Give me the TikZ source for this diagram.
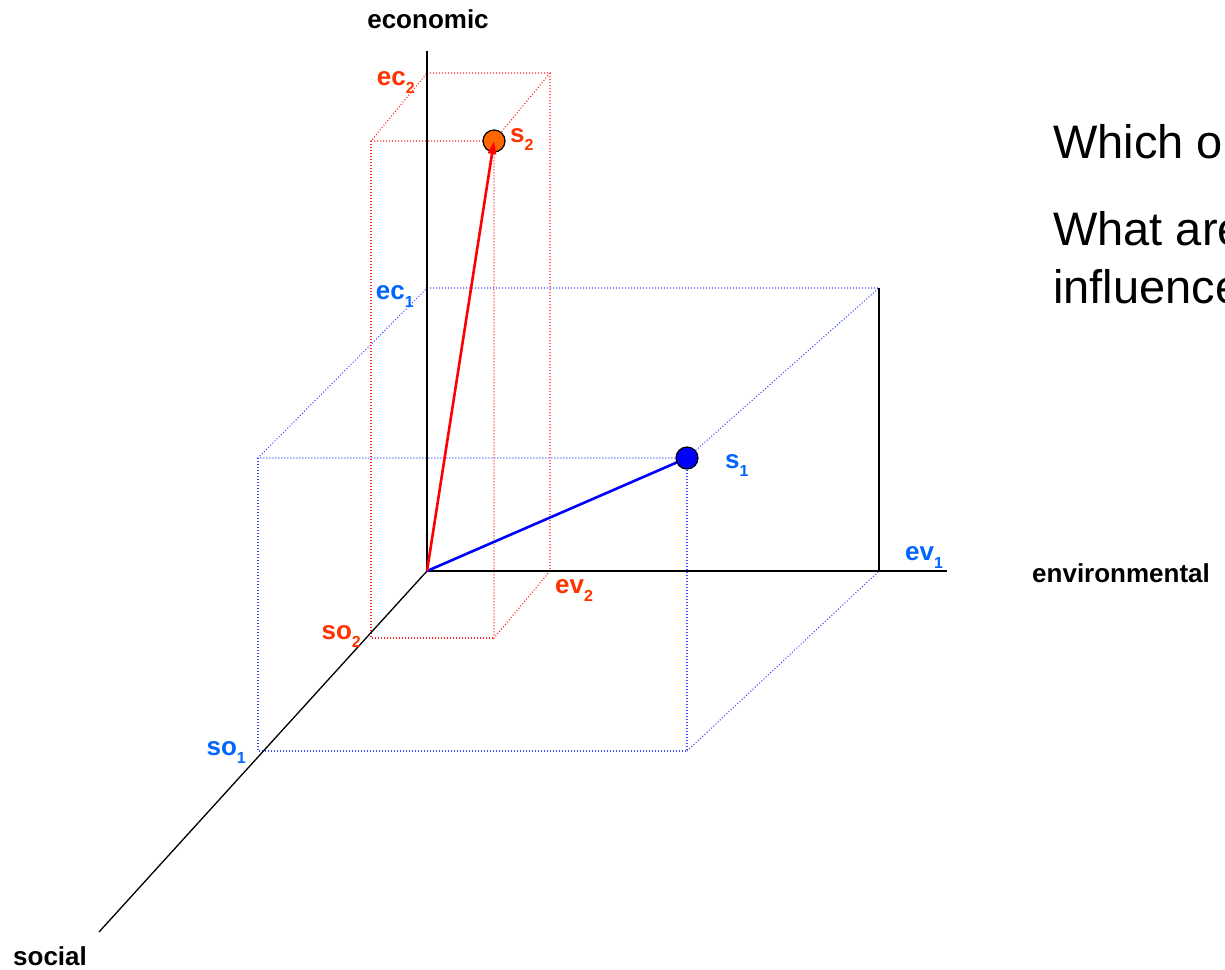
\documentclass[tikz,border=0pt]{standalone}
\usepackage{fontspec}
\setmainfont{Liberation Sans}
\usetikzlibrary{arrows.meta}
\definecolor{lblred}{HTML}{FF3300}
\definecolor{lblblue}{HTML}{0066FF}
\definecolor{dotred}{HTML}{FF2222}
\definecolor{dotblue}{HTML}{3D4DFF}
\definecolor{vecblue}{HTML}{0000FF}
\definecolor{vecred}{HTML}{FF0000}
\definecolor{ptorange}{HTML}{FF6600}
\newcommand{\idx}[1]{\raisebox{-8pt}{\fontsize{16}{16}\selectfont #1}}

\begin{document}
\begin{tikzpicture}[x=1pt, y=-1pt,
    lbl/.style={font=\fontsize{26}{30}\selectfont\bfseries, inner sep=0pt},
    qtext/.style={font=\fontsize{47}{56}\selectfont, inner sep=0pt, anchor=base west},
    axisline/.style={black, line width=1.3pt},
    dotbox/.style={line width=1.1pt, dash pattern=on 1pt off 2pt},
    vec/.style={line width=2.6pt},
    pt/.style={circle, draw=black, line width=1.2pt, minimum size=22pt, inner sep=0pt}]
  \useasboundingbox (0,0) rectangle (1225,969);
  % corners
  \coordinate (O) at (427,571);
  \coordinate (ectop) at (427,51);
  \coordinate (evend) at (947,571);
  \coordinate (soend) at (99,932);
  \coordinate (ec1) at (427,288);
  \coordinate (bbr) at (879,288);
  \coordinate (ev1) at (879,571);
  \coordinate (bftl) at (258,458);
  \coordinate (s1) at (687,458);
  \coordinate (bfbr) at (687,751);
  \coordinate (so1) at (258,751);
  \coordinate (ec2) at (427,73);
  \coordinate (rbr) at (550,73);
  \coordinate (ev2) at (550,571);
  \coordinate (rftl) at (371,141);
  \coordinate (s2) at (494,141);
  \coordinate (rfbr) at (494,638);
  \coordinate (so2) at (371,638);
  % blue box
  \draw[dotbox, dotblue] (ec1) -- (bbr) -- (s1) -- (bftl) -- cycle;
  \draw[dotbox, dotblue] (bftl) -- (so1) -- (bfbr) -- (s1);
  \draw[dotbox, dotblue] (bfbr) -- (ev1);
  % red box
  \draw[dotbox, dotred] (ec2) -- (rbr) -- (s2) -- (rftl) -- cycle;
  \draw[dotbox, dotred] (rbr) -- (ev2) -- (rfbr) -- (s2);
  \draw[dotbox, dotred] (rftl) -- (so2) -- (rfbr);
  % axes
  \draw[axisline] (O) -- (ectop);
  \draw[axisline] (O) -- (evend);
  \draw[axisline] (O) -- (soend);
  \draw[axisline] (bbr) -- (ev1);
  % vectors
  \draw[vec, vecblue] (O) -- (s1);
  \node[pt, fill=vecblue] (p1) at (s1) {};
  \node[pt, fill=ptorange] (p2) at (s2) {};
  \draw[vec, vecred, -{Triangle[length=13pt, width=8pt]}] (O) -- (s2);
  % labels
  \node[lbl, anchor=base] (leco) at (428,28) {economic};
  \node[lbl, anchor=base west] (lenv) at (1032,582) {environmental};
  \node[lbl, anchor=base west] (lsoc) at (13,965) {social};
  \node[lbl, lblred, anchor=base east] (lec2) at (415,85) {ec\idx{2}};
  \node[lbl, lblred, anchor=base west] (ls2) at (510,142) {s\idx{2}};
  \node[lbl, lblred, anchor=base west] (lev2) at (555,593) {ev\idx{2}};
  \node[lbl, lblred, anchor=base east] (lso2) at (361,639) {so\idx{2}};
  \node[lbl, lblblue, anchor=base east] (lec1) at (414,299) {ec\idx{1}};
  \node[lbl, lblblue, anchor=base west] (ls1) at (725,468) {s\idx{1}};
  \node[lbl, lblblue, anchor=base west] (lev1) at (905,560) {ev\idx{1}};
  \node[lbl, lblblue, anchor=base east] (lso1) at (246,755) {so\idx{1}};
  % question text
  \node[qtext] (q1) at (1053,158) {Which o};
  \node[qtext] (q2) at (1053,245) {What are};
  \node[qtext] (q3) at (1053,303) {influence};
\end{tikzpicture}
\end{document}
